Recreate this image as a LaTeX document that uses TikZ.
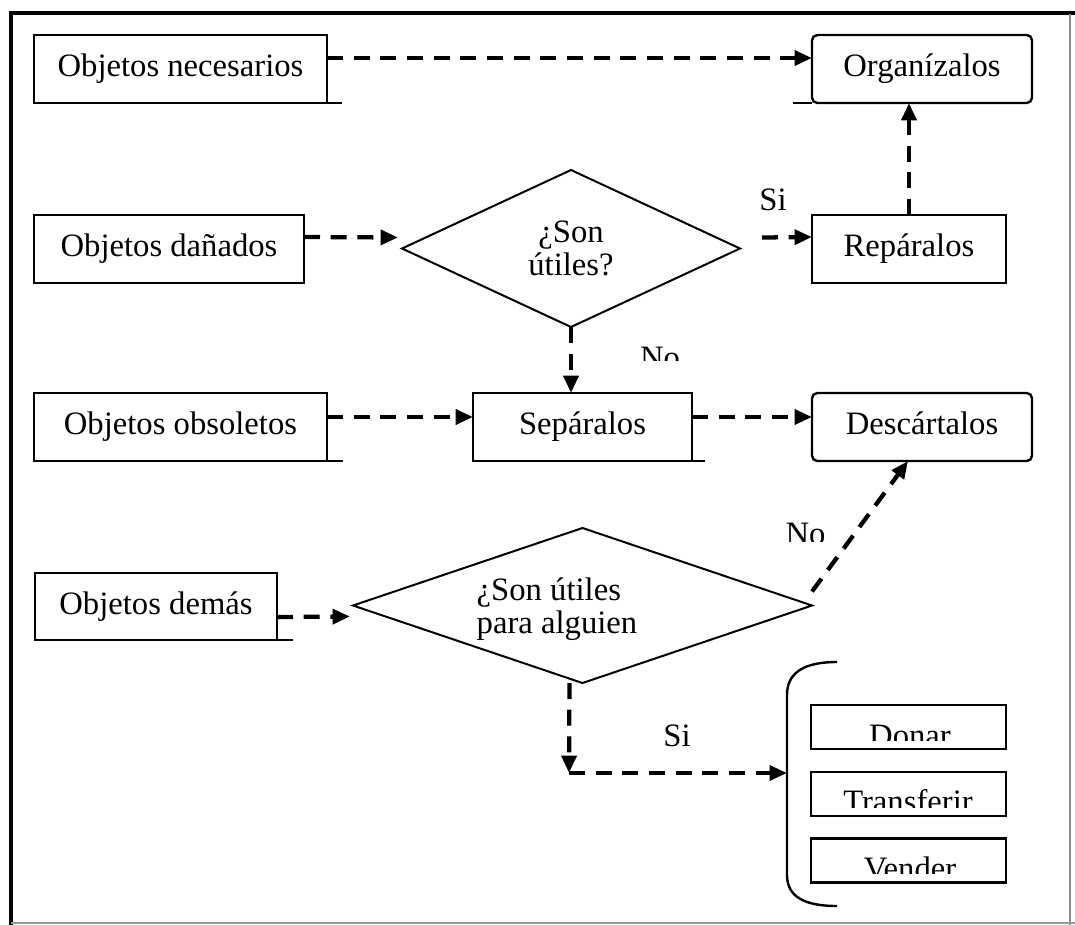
\documentclass[tikz,border=0pt]{standalone}
\usepackage{fontspec}
\setmainfont{Liberation Serif}
\usetikzlibrary{arrows.meta,shapes.geometric,calc}

\begin{document}
\begin{tikzpicture}[x=0.75pt,y=-0.75pt,
  txt/.style={font=\fontsize{24.5}{25}\selectfont},
  box/.style={txt,draw,line width=1.8pt,minimum height=51pt,inner sep=0pt,outer sep=0pt,
    text height=16.8pt,text depth=5.4pt},
  rbox/.style={box,rounded corners=4pt},
  smallbox/.style={draw,line width=1.8pt,minimum width=146.25pt,minimum height=33pt,
    inner sep=0pt,outer sep=0pt},
  choice/.style={txt,draw,diamond,line width=1.5pt,inner sep=0pt,outer sep=0pt,align=center},
  boxline/.style={line width=1.8pt},
  flow/.style={line width=3.2pt,dash pattern=on 12pt off 8pt,
    -{Triangle[length=13pt,width=11pt]}}]

\useasboundingbox (0,0) rectangle (1075,925);

% page frame
\draw[line width=3pt] (9,13) -- (1075,13);
\draw[line width=3.2pt] (11,11) -- (11,925);
\draw[black!45,line width=0.8pt] (1070,14) -- (1070,925);
\draw[black!40,line width=0.8pt] (11,923) -- (1075,923);

% boxes
\node[box,minimum width=219.75pt] (nec) at (180.5,69) {Objetos necesarios};
\node[rbox,minimum width=165pt] (org) at (922,69) {Organízalos};
\node[box,minimum width=202.5pt] (dan) at (169,249) {Objetos dañados};
\node[choice,minimum width=253.5pt,minimum height=117.75pt] (q1) at (571,248.5) {¿Son\\útiles?};
\node[box,minimum width=145.5pt] (rep) at (909,249) {Repáralos};
\node[box,minimum width=219.75pt] (obs) at (180.5,427) {Objetos obsoletos};
\node[box,minimum width=164.25pt] (sep) at (582.5,427) {Sepáralos};
\node[rbox,minimum width=165pt] (des) at (922,427) {Descártalos};
\node[box,minimum width=181.5pt,minimum height=50.25pt] (dem) at (156,606.5) {Objetos demás};
\node[choice,minimum width=344.25pt,minimum height=116.25pt] (q2) at (582.5,605.5) {};
\node[txt,align=left,inner sep=0pt] (q2t) at (557,609) {¿Son útiles\\para alguien};

% options grouped by the brace
\node[smallbox] (don) at (908.5,727) {};
\node[smallbox] (tra) at (908.5,794) {};
\node[smallbox] (ven) at (908.5,860.5) {};
\draw[boxline] (837,662) .. controls (805,662) and (787,672) .. (787,695)
  -- (787,875) .. controls (787,897) and (805,906) .. (837,906);
\coordinate (brace) at (787,773);

% short bottom rules running past the box edges
\draw[boxline] (nec.south east) -- ++(15,0);
\draw[boxline] (org.south west) -- ++(-19,0);
\draw[boxline] (obs.south east) -- ++(16,0);
\draw[boxline] (sep.south east) -- ++(13,0);
\draw[boxline] (dem.south east) -- ++(16,0);

% labels whose lower part is cut off
\begin{scope}
  \clip (600,330) rectangle (720,360);
  \node[txt,anchor=base] (no1) at (660,368.5) {No};
\end{scope}
\begin{scope}
  \clip (760,500) rectangle (850,541);
  \node[txt,anchor=base] (no2) at (805.5,544.5) {No};
\end{scope}
\begin{scope}
  \clip (820,710) rectangle (1000,740);
  \node[txt,anchor=base] (dont) at (910,746.5) {Donar};
\end{scope}
\begin{scope}
  \clip (820,776) rectangle (1000,807);
  \node[txt,anchor=base] (trat) at (908,812.5) {Transferir};
\end{scope}
\begin{scope}
  \clip (820,842) rectangle (1000,873);
  \node[txt,anchor=base] (vent) at (910,879.5) {Vender};
\end{scope}

\node[txt] (si1) at (773,200) {Si};
\node[txt] (si2) at (677,736) {Si};

% connectors
\draw[flow] ($(nec.east)+(0,-11)$) -- ($(org.west)+(0,-11)$);
\draw[flow] ($(dan.east)+(0,-12)$) -- ($(q1.west)+(-4,-11)$);
\draw[flow] ($(q1.east)+(22,-11)$) -- ($(rep.west)+(0,-12)$);
\draw[flow] (rep.north) -- (rep.north |- org.south);
\draw[flow] (q1.south) -- (q1.south |- sep.north);
\draw[flow] ($(obs.east)+(0,-10)$) -- ($(sep.west)+(0,-10)$);
\draw[flow] ($(sep.east)+(0,-10)$) -- ($(des.west)+(0,-10)$);
\draw[flow] ($(q2.east)+(0,-14)$) -- ($(des.south)+(-14,0)$);
\draw[flow] ($(dem.east)+(0,10.5)$) -- ($(q2.west)+(-3,11)$);
\coordinate (turn) at (569,773);
\draw[flow] ($(q2.south)+(-13,0)$) -- (turn);
\draw[flow] (turn) -- (brace);

\end{tikzpicture}
\end{document}
